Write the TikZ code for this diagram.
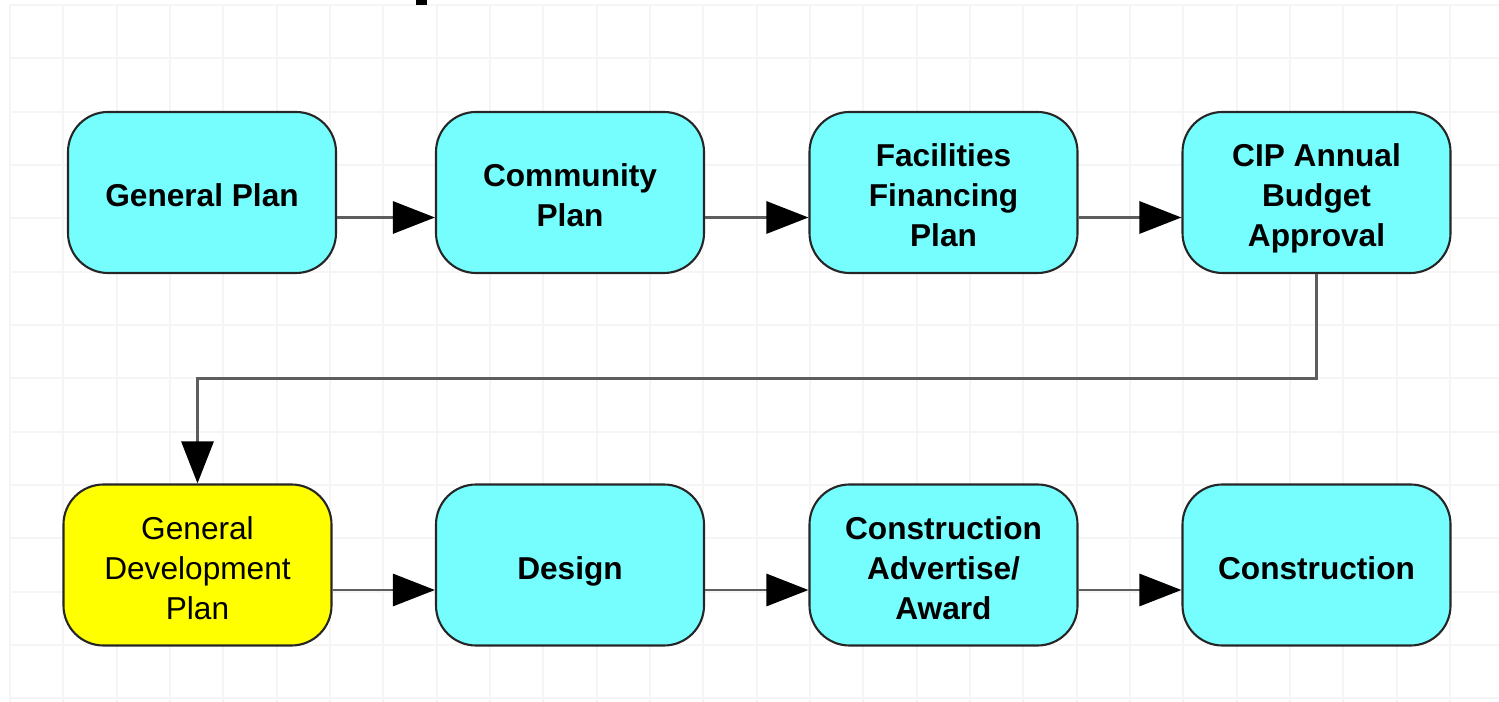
\documentclass[tikz,border=0pt]{standalone}
\usepackage{fontspec}
\setmainfont{Liberation Sans}
\usepackage{xcolor}
\usetikzlibrary{shapes,arrows.meta,positioning}

\definecolor{boxcyan}{HTML}{76FEFF}
\definecolor{boxyellow}{HTML}{FFFF00}
\definecolor{gridgray}{HTML}{F5F5F5}
\definecolor{linegray}{HTML}{5E5E5E}
\newcommand{\capstrut}{\rule{0pt}{8.2pt}}

\begin{document}
\begin{tikzpicture}[
    planbox/.style={rectangle, rounded corners=0.4cm, draw=black!85, line width=0.6pt, fill=boxcyan, minimum width=2.68cm, minimum height=1.61cm, align=center, inner sep=0pt, text depth=0pt, font=\fontsize{9}{11.4}\selectfont\bfseries},
    devbox/.style={planbox, fill=boxyellow, font=\fontsize{9}{11.4}\selectfont},
    flow/.style={draw=linegray, line width=0.85pt, -{Triangle[length=4.2mm, width=3.2mm, color=black]}}
]
\useasboundingbox (0,0) rectangle (14.99,7.02);
% background grid
\foreach \k in {0,...,27}
    \draw[gridgray, line width=0.6pt] (0.10+0.5333*\k,0) -- (0.10+0.5333*\k,6.97);
\foreach \k in {0,...,13}
    \draw[gridgray, line width=0.6pt] (0.10,6.97-0.5333*\k) -- (14.99,6.97-0.5333*\k);
\fill[black] (4.16,6.97) rectangle (4.27,7.02);

% top row
\node[planbox] (gp) at (2.02,5.095) {\capstrut General Plan};
\node[planbox] (cp) at (5.70,5.095) {\capstrut Community\\Plan};
\node[planbox] (ffp) at (9.435,5.095) {\capstrut Facilities\\Financing\\Plan};
\node[planbox] (cip) at (13.165,5.095) {\capstrut CIP Annual\\Budget\\Approval};

% bottom row
\node[devbox] (gdp) at (1.975,1.37) {\capstrut General\\Development\\Plan};
\node[planbox] (des) at (5.70,1.37) {\capstrut Design};
\node[planbox] (adv) at (9.435,1.37) {\capstrut Construction\\Advertise/\\Award};
\node[planbox] (con) at (13.165,1.37) {\capstrut Construction};

% connectors
\draw[flow] ([yshift=-2.5mm]gp.east) -- ([yshift=-2.5mm]cp.west);
\draw[flow] ([yshift=-2.5mm]cp.east) -- ([yshift=-2.5mm]ffp.west);
\draw[flow] ([yshift=-2.5mm]ffp.east) -- ([yshift=-2.5mm]cip.west);
\coordinate (turn) at (0,3.23);
\draw[flow] (cip.south) -- (cip.south |- turn) -| (gdp.north);
\draw[flow] ([yshift=-2.5mm]gdp.east) -- ([yshift=-2.5mm]des.west);
\draw[flow] ([yshift=-2.5mm]des.east) -- ([yshift=-2.5mm]adv.west);
\draw[flow] ([yshift=-2.5mm]adv.east) -- ([yshift=-2.5mm]con.west);
\end{tikzpicture}
\end{document}
